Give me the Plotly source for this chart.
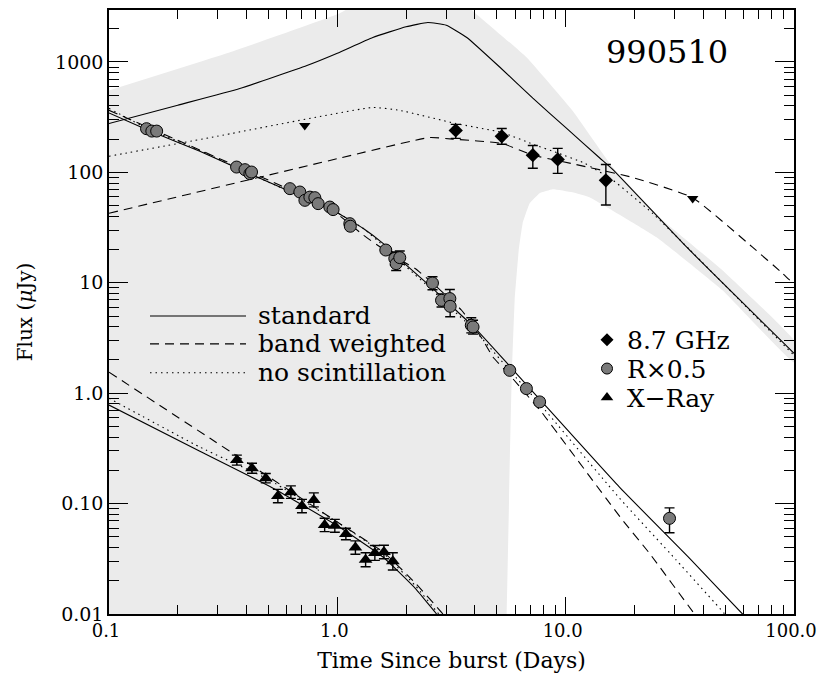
import plotly.graph_objects as go

# ---------------- data ----------------
# 8.7 GHz radio detections
radio_t = [3.30, 5.25, 7.18, 9.23, 15.0]
radio_f = [240, 212, 143, 131, 84.7]
radio_ep = [32, 38, 32, 34, 33]
radio_em = [37, 32, 34, 33, 34]
# radio upper limits
ul_t = [0.72, 36.0]
ul_f = [266, 58]

# optical R x 0.5
opt_t = [0.146, 0.154, 0.1617, 0.362, 0.394, 0.414, 0.421, 0.620, 0.685, 0.721,
         0.758, 0.797, 0.824, 0.927, 0.958, 1.134, 1.14, 1.63, 1.785, 1.81,
         1.877, 2.61, 2.86, 3.11, 3.12, 3.86, 3.93, 5.69, 6.73, 7.69, 28.5]
opt_f = [248.6, 236.5, 236.5, 111.7, 105.8, 97.3, 100.7, 71.2, 66.4, 55.8,
         59.7, 59.0, 52.1, 48.5, 46.0, 34.3, 32.5, 19.8, 16.6, 14.9,
         16.9, 9.95, 6.94, 7.19, 6.12, 4.12, 3.98, 1.61, 1.10, 0.834, 0.0735]
opt_ep = [14, 13, 13, 6, 6, 5.5, 5.5, 4, 3.8, 3.2,
          3.4, 3.4, 3.0, 2.8, 2.6, 2.2, 2.0, 1.2, 2.4, 2.2,
          2.5, 1.4, 1.0, 1.5, 1.3, 0.7, 0.6, 0.1, 0.07, 0.06, 0.018]
opt_em = [13, 12, 12, 5.5, 5.5, 5, 5, 3.7, 3.5, 3.0,
          3.2, 3.2, 2.8, 2.6, 2.4, 2.0, 1.9, 1.1, 2.1, 2.0,
          2.2, 1.3, 0.9, 1.3, 1.2, 0.6, 0.55, 0.09, 0.065, 0.055, 0.019]

# X-ray
xr_t = [0.363, 0.423, 0.486, 0.549, 0.626, 0.70, 0.789, 0.88, 0.975, 1.09,
        1.20, 1.33, 1.46, 1.60, 1.75]
xr_f = [0.248, 0.209, 0.170, 0.117, 0.127, 0.095, 0.108, 0.064, 0.063, 0.053,
        0.040, 0.031, 0.0357, 0.0364, 0.030]
xr_ep = [0.027, 0.023, 0.0175, 0.0176, 0.0178, 0.0143, 0.017, 0.0096, 0.009, 0.0068,
         0.006, 0.0049, 0.006, 0.0055, 0.0059]
xr_em = [0.025, 0.021, 0.016, 0.0153, 0.0156, 0.0124, 0.0147, 0.0083, 0.008, 0.006,
         0.0052, 0.0042, 0.0051, 0.0047, 0.005]

# model curves: radio
rad_std_t = [0.1, 0.2, 0.374, 0.736, 1.0, 1.43, 2.0, 2.49, 3.0, 3.69, 5.14, 7.18, 10.1, 14.1, 16.1, 33.9, 100]
rad_std_f = [277, 406, 575, 929, 1200, 1667, 2080, 2275, 2150, 1667, 900, 470, 250, 135, 106, 21, 2.3]
rad_dot_t = [0.1, 0.3, 1.43, 1.88, 3.3, 5.25, 7.18, 9.2, 12.0, 16.1, 24.0, 34.9, 100]
rad_dot_f = [140, 213, 387, 364, 277, 230, 180, 150, 122, 85, 42.6, 20, 2.2]
rad_dsh_t = [0.1, 1.0, 2.54, 3.2, 5.25, 7.18, 9.23, 19.6, 36.0, 65.8, 89.0, 100]
rad_dsh_f = [42.6, 133, 207, 200, 183, 143, 128, 90, 59, 21, 12.2, 9.7]

# model curves: optical
opt_std_t = [0.1, 0.146, 0.25, 0.4, 0.7, 1.0, 1.3, 1.59, 2.0, 2.6, 3.2, 4.0, 5.7, 7.7, 17.2, 35.5, 59.5, 80]
opt_std_f = [345, 245, 155, 100, 60, 43, 31, 22.6, 14.5, 9.0, 6.0, 3.9, 1.75, 0.88, 0.141, 0.0308, 0.01, 0.0053]
opt_dsh_t = [0.1, 0.2, 0.4, 0.8, 1.0, 1.3, 1.6, 2.0, 2.2, 2.6, 3.5, 4.3, 4.8, 5.7, 7.9, 10, 17.5, 23.3, 36.7, 50]
opt_dsh_f = [365, 195, 104, 55, 42, 27, 20, 15, 13.4, 10, 5.64, 3.13, 2.13, 1.45, 0.66, 0.345, 0.0735, 0.0354, 0.01, 0.0045]
opt_dot_t = [0.1, 0.146, 0.25, 0.4, 0.7, 1.0, 1.3, 1.6, 2.0, 2.6, 3.2, 4.0, 5.7, 7.7, 17.2, 30.5, 49.7, 70]
opt_dot_f = [380, 252, 158, 100, 60, 43, 31, 21.5, 14, 8.6, 5.7, 3.7, 1.6, 0.8, 0.112, 0.0308, 0.01, 0.0042]

# model curves: X-ray
xr_std_t = [0.1, 0.25, 0.523, 1.0, 1.58, 2.2, 2.72, 3.0]
xr_std_f = [0.78, 0.298, 0.138, 0.063, 0.033, 0.017, 0.01, 0.008]
xr_dot_t = [0.1, 0.25, 0.5, 1.0, 1.6, 2.2, 2.78, 3.1]
xr_dot_f = [0.90, 0.325, 0.165, 0.068, 0.035, 0.018, 0.01, 0.0077]
xr_dsh_t = [0.1, 0.277, 0.5, 1.0, 1.6, 2.2, 2.9, 3.2]
xr_dsh_f = [1.55, 0.39, 0.175, 0.068, 0.036, 0.019, 0.01, 0.0075]

# scintillation envelope (grey band)
band_up_t = [0.1, 0.35, 1.0, 1.2, 2.5, 3.6, 3.92, 6.75, 10.7, 16.1, 26.6, 48.6, 100]
band_up_f = [552, 1250, 2700, 3300, 8000, 3500, 2900, 1099, 364, 111, 36.8, 13.0, 3.0]
band_lo_t = [100, 48.6, 25.0, 12.7, 10.7, 8.77, 7.69, 6.96, 6.48, 6.23, 5.98, 5.80, 5.52, 5.5, 0.1]
band_lo_f = [1.9, 8.55, 25.8, 59.4, 65.9, 70.2, 64.6, 52.4, 34.5, 19.7, 6.95, 1.31, 0.01, 0.005, 0.005]

x_tickvals = [0.1, 1, 10, 100]
x_ticktext = ["0.1", "1.0", "10.0", "100.0"]
y_tickvals = [0.01, 0.1, 1, 10, 100, 1000]
y_ticktext = ["0.01", "0.10", "1.0", "10", "100", "1000"]

FONT = "DejaVu Serif"
LW = 1.1
DASH = "9px,6px"
DOT = "1.5px,4px"

fig = go.Figure()

fig.add_trace(go.Scatter(x=band_up_t + band_lo_t, y=band_up_f + band_lo_f, mode="lines",
                         fill="toself", fillcolor="#ebebeb", line=dict(width=0, shape="spline", smoothing=0.3),
                         showlegend=False, hoverinfo="skip"))

def curve(t, f, dash):
    fig.add_trace(go.Scatter(x=t, y=f, mode="lines", showlegend=False, hoverinfo="skip",
                             line=dict(color="black", width=LW, dash=dash, shape="spline", smoothing=0.4)))

for t, f in [(rad_std_t, rad_std_f), (opt_std_t, opt_std_f), (xr_std_t, xr_std_f)]:
    curve(t, f, "solid")
for t, f in [(rad_dsh_t, rad_dsh_f), (opt_dsh_t, opt_dsh_f), (xr_dsh_t, xr_dsh_f)]:
    curve(t, f, DASH)
for t, f in [(rad_dot_t, rad_dot_f), (opt_dot_t, opt_dot_f), (xr_dot_t, xr_dot_f)]:
    curve(t, f, DOT)

def errs(ep, em):
    return dict(type="data", symmetric=False, array=ep, arrayminus=em,
                color="black", thickness=1.4, width=5)

fig.add_trace(go.Scatter(x=opt_t, y=opt_f, mode="markers", showlegend=False,
                         error_y=errs(opt_ep, opt_em),
                         marker=dict(symbol="circle", size=12, color="#7a7a7a",
                                     line=dict(color="black", width=1))))
fig.add_trace(go.Scatter(x=radio_t, y=radio_f, mode="markers", showlegend=False,
                         error_y=errs(radio_ep, radio_em),
                         marker=dict(symbol="diamond", size=11, color="black")))
fig.add_trace(go.Scatter(x=xr_t, y=xr_f, mode="markers", showlegend=False,
                         error_y=errs(xr_ep, xr_em),
                         marker=dict(symbol="triangle-up", size=12, color="black")))
fig.add_trace(go.Scatter(x=ul_t, y=ul_f, mode="markers", showlegend=False,
                         marker=dict(symbol="triangle-down", size=10, color="black")))

# page is drawn with an 8px body margin; layout is expressed in window pixels
OFF = 8
W, H = 826 - OFF, 676 - OFF
L = 109 - OFF
R = W - (794 - OFF)
T = 0
B = H - (614 - OFF)
pw, ph = W - L - R, H - T - B

def px(xw):
    return (xw - OFF - L) / pw

def py(yw):
    return (H - B - (yw - OFF)) / ph

# legend-only entries for the symbols, each in its own legend row
sym_leg = [("8.7 GHz", dict(symbol="diamond", size=10, color="black"), 339, "legend"),
           ("R\u00d70.5", dict(symbol="circle", size=11, color="#7a7a7a",
                               line=dict(color="black", width=1)), 368, "legend2"),
           ("X\u2212Ray", dict(symbol="triangle-up", size=11, color="black"), 397, "legend3")]
legends = {}
for name, mk, yw, lg in sym_leg:
    fig.add_trace(go.Scatter(x=[None], y=[None], mode="markers", name=name, marker=mk, legend=lg))
    legends[lg] = dict(x=px(587), y=py(yw), xanchor="left", yanchor="middle",
                       bgcolor="rgba(0,0,0,0)", borderwidth=0,
                       font=dict(family=FONT, size=25, color="black"))

# line-style legend (keys drawn as shapes, labels as text)
line_leg = [("standard", "solid", 315), ("band weighted", DASH, 343), ("no scintillation", DOT, 372)]
shapes = []
annotations = []
for label, dash, yw in line_leg:
    shapes.append(dict(type="line", xref="paper", yref="paper", x0=px(150), x1=px(246),
                       y0=py(yw), y1=py(yw), line=dict(color="black", width=LW, dash=dash)))
    annotations.append(dict(text=label, xref="paper", yref="paper", x=px(256), y=py(yw),
                            xanchor="left", yanchor="middle", showarrow=False,
                            font=dict(family=FONT, size=25, color="black")))

annotations.append(dict(text="990510", xref="paper", yref="paper", x=px(667), y=py(50),
                        xanchor="center", yanchor="middle", showarrow=False,
                        font=dict(family=FONT, size=32, color="black")))

axis_common = dict(type="log", showgrid=False, zeroline=False, showline=True,
                   linecolor="black", linewidth=1.5, mirror="allticks",
                   ticks="inside", tickcolor="black", tickwidth=1.2)

x_minor = [m * d for d in [0.1, 1, 10] for m in range(2, 10)]
y_minor = [m * d for d in [0.01, 0.1, 1, 10, 100, 1000] for m in range(2, 10)]

fig.update_layout(
    width=W, height=H,
    margin=dict(l=L, r=R, t=T, b=B, pad=0),
    paper_bgcolor="white", plot_bgcolor="white",
    xaxis=dict(axis_common, range=[-1, 2], tickmode="array", tickvals=x_tickvals,
               ticktext=x_ticktext, ticklen=17, ticklabelshift=-3,
               tickfont=dict(family=FONT, size=18, color="black"),
               minor=dict(tickmode="array", tickvals=x_minor, ticks="inside", ticklen=9,
                          tickcolor="black", tickwidth=1.2),
               title=dict(text="Time Since burst (Days)", standoff=12,
                          font=dict(family=FONT, size=22, color="black"))),
    yaxis=dict(axis_common, range=[-2, 3.4706], tickmode="array", tickvals=y_tickvals,
               ticktext=y_ticktext, ticklen=19,
               tickfont=dict(family=FONT, size=19, color="black"),
               minor=dict(tickmode="array", tickvals=y_minor, ticks="inside", ticklen=10,
                          tickcolor="black", tickwidth=1.2),
               title=dict(text="Flux (<i>\u03bc</i>Jy)", standoff=17,
                          font=dict(family=FONT, size=20, color="black"))),
    shapes=shapes, annotations=annotations,
    **legends,
)

fig.write_html("out.html")
